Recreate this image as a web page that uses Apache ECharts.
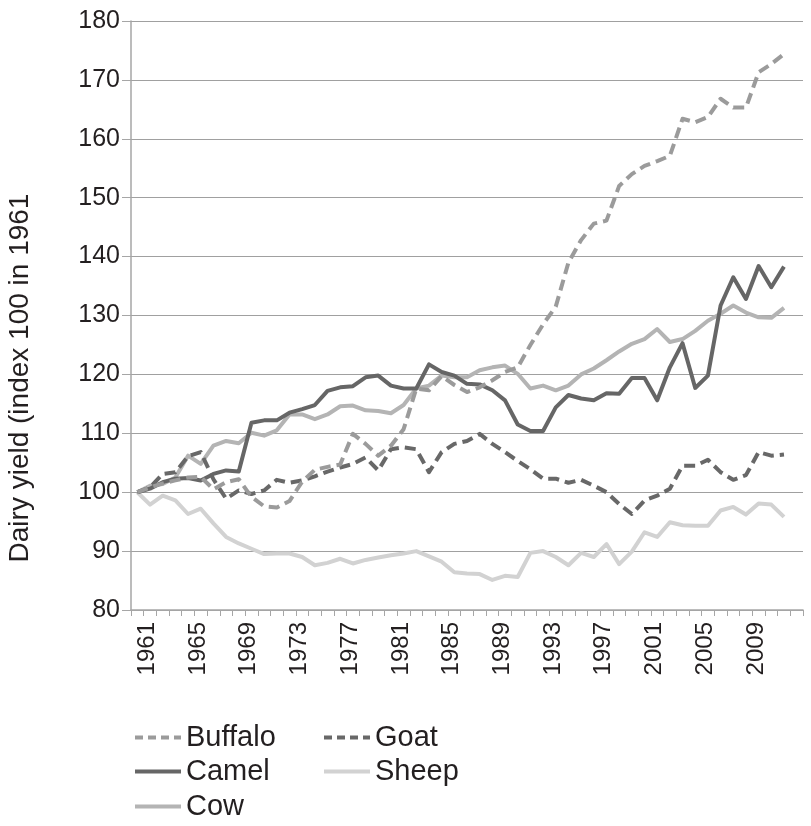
<!DOCTYPE html>
<html>
<head>
<meta charset="utf-8">
<script src="https://cdn.jsdelivr.net/npm/echarts@6/dist/echarts.min.js"></script>
<style>
html,body{margin:0;padding:0;background:#fff;}
#chart{width:811px;height:826px;}
</style>
</head>
<body>
<div id="chart"></div>
<script>
const years = [];
for (let y = 1961; y <= 2012; y++) years.push(String(y));
const categories = years.concat(['']);

const buffalo = [100,100.8,101.5,102.0,102.5,102.6,100.5,101.7,102.2,99.2,97.6,97.4,98.5,101.8,103.8,104.3,104.7,109.9,108.2,106.2,107.9,110.7,117.6,117.3,119.7,118.2,117.0,117.8,119.0,120.4,121.2,125.0,128.5,131.5,139.0,142.8,145.6,146.1,152.0,154.0,155.4,156.2,157.1,163.4,162.8,163.7,166.8,165.3,165.3,171.3,172.7,174.4];
const camel = [100,100.6,101.7,102.3,102.4,102.0,103.1,103.7,103.5,111.8,112.2,112.2,113.5,114.1,114.8,117.2,117.8,118.0,119.5,119.8,118.1,117.6,117.6,121.7,120.4,119.8,118.4,118.3,117.3,115.6,111.5,110.4,110.4,114.4,116.5,115.9,115.6,116.8,116.7,119.4,119.4,115.6,121.2,125.3,117.7,119.8,131.7,136.5,132.8,138.4,134.8,138.3];
const cow = [100,101.1,101.4,102.5,106.2,104.8,107.9,108.7,108.3,110.1,109.6,110.5,113.2,113.2,112.4,113.2,114.6,114.7,113.9,113.8,113.4,114.8,117.6,118.1,119.8,119.5,119.5,120.7,121.2,121.5,120.1,117.6,118.1,117.3,118.1,120.0,121.0,122.4,123.9,125.2,126.0,127.7,125.5,126.0,127.4,129.1,130.3,131.7,130.5,129.7,129.6,131.3];
const goat = [100,100.8,103.1,103.4,106.1,106.8,102.2,98.9,100.3,99.7,100.3,102.1,101.6,102.0,102.7,103.5,104.2,104.8,105.9,103.7,107.3,107.6,107.3,103.4,106.8,108.2,108.7,109.9,108.2,106.8,105.3,103.9,102.3,102.3,101.6,102.1,101.1,100.0,98.0,96.3,98.6,99.4,100.6,104.5,104.5,105.5,103.4,102.1,102.9,106.8,106.2,106.4];
const sheep = [100,97.9,99.4,98.6,96.3,97.2,94.7,92.4,91.3,90.4,89.5,89.6,89.6,89.0,87.6,88.0,88.7,87.9,88.5,88.9,89.3,89.6,90.0,89.1,88.2,86.4,86.2,86.1,85.1,85.8,85.6,89.7,90.0,89.0,87.6,89.7,89.0,91.2,87.8,89.9,93.2,92.4,94.9,94.4,94.3,94.3,96.9,97.5,96.2,98.1,97.9,95.8];

const yTicks = {min: 80, max: 180, interval: 10};
const yTitle = 'Dairy yield (index 100 in 1961';
const FONT = 'Liberation Sans, Arial, sans-serif';
const TXT = '#231f20';

const COLORS = {Buffalo: '#9b9b9b', Camel: '#666666', Cow: '#b4b4b4', Goat: '#686868', Sheep: '#d2d2d2'};
const DASHED = {Buffalo: true, Goat: true};

const chart = echarts.init(document.getElementById('chart'), null, {renderer: 'canvas'});

function mk(name, data) {
  const c = COLORS[name];
  return {
    name: name,
    type: 'line',
    data: data,
    symbol: 'none',
    showSymbol: false,
    smooth: false,
    animation: false,
    lineStyle: {color: c, width: 4, type: DASHED[name] ? [11, 6] : 'solid', cap: 'butt', join: 'round'},
    itemStyle: {color: c}
  };
}

function lg(name, left, top) {
  const c = COLORS[name];
  return {
    data: [name],
    orient: 'horizontal',
    left: left,
    top: top,
    padding: 0,
    itemWidth: 46,
    itemHeight: 14,
    itemGap: 0,
    textStyle: {fontSize: 29, fontFamily: FONT, color: TXT},
    itemStyle: {color: 'rgba(0,0,0,0)', borderWidth: 0, opacity: 0},
    lineStyle: {color: c, width: 4, type: DASHED[name] ? [8, 5] : 'solid', cap: 'butt'},
    selectedMode: false
  };
}

chart.setOption({
  animation: false,
  backgroundColor: '#fff',
  grid: {left: 131, right: 8, top: 21, bottom: 216, containLabel: false, outerBoundsMode: 'none'},
  xAxis: {
    type: 'category',
    data: categories,
    boundaryGap: true,
    axisLine: {show: true, lineStyle: {color: '#a6a6a6', width: 1.5}},
    axisTick: {show: true, interval: 0, length: 6, lineStyle: {color: '#a6a6a6', width: 1}},
    axisLabel: {
      interval: 3,
      rotate: 90,
      margin: 12,
      fontSize: 24,
      fontFamily: FONT,
      color: TXT,
      verticalAlign: 'top',
      lineHeight: 20
    },
    splitLine: {show: false}
  },
  yAxis: {
    type: 'value',
    min: yTicks.min,
    max: yTicks.max,
    interval: yTicks.interval,
    axisLine: {show: true, lineStyle: {color: '#a6a6a6', width: 1.5}},
    axisTick: {show: true, inside: false, length: 9, lineStyle: {color: '#a6a6a6', width: 1}},
    axisLabel: {margin: 11, fontSize: 25, fontFamily: FONT, color: TXT},
    splitLine: {show: true, lineStyle: {color: '#a0a0a0', width: 1}}
  },
  graphic: [{
    type: 'text',
    x: 20,
    y: 378,
    rotation: Math.PI / 2,
    style: {text: yTitle, fontSize: 28, fontFamily: FONT, fill: TXT, align: 'center', verticalAlign: 'middle'}
  }],
  legend: [
    lg('Buffalo', 133, 723),
    lg('Goat', 322, 723),
    lg('Camel', 133, 757),
    lg('Sheep', 322, 757),
    lg('Cow', 133, 792)
  ],
  series: [
    mk('Sheep', sheep),
    mk('Cow', cow),
    mk('Goat', goat),
    mk('Camel', camel),
    mk('Buffalo', buffalo)
  ]
});
</script>
</body>
</html>
